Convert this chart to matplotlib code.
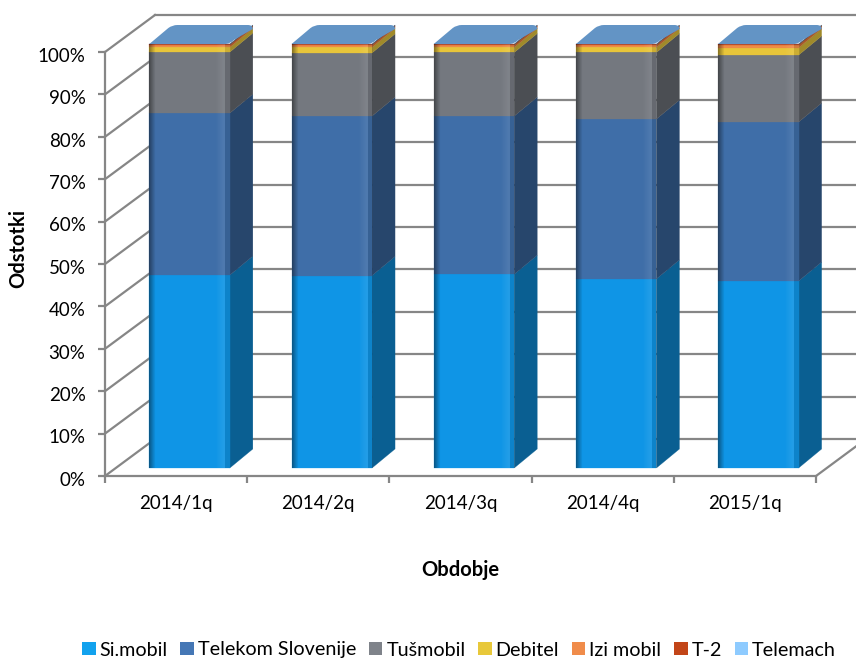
#!/usr/bin/env python3
"""Stacked 3D style column chart of mobile market shares"""

import matplotlib
matplotlib.use('Agg')
import matplotlib.pyplot as plt
from matplotlib.patches import Polygon, PathPatch, Patch
from matplotlib.path import Path
from matplotlib.transforms import ScaledTranslation
import numpy as np

plt.rcParams['font.family'] = ['Lato', 'DejaVu Sans']

# Data
periods = ['2014/1q', '2014/2q', '2014/3q', '2014/4q', '2015/1q']
simobil = [45.5, 45.4, 45.7, 44.6, 44.1]
telekom = [38.2, 37.6, 37.3, 37.7, 37.5]
tusmobil = [14.4, 14.9, 15.0, 15.7, 15.8]
debitel = [1.1, 1.3, 1.2, 1.2, 1.7]
izi = [0.5, 0.5, 0.5, 0.5, 0.6]
t2 = [0.2, 0.2, 0.2, 0.2, 0.2]
telemach = [0.1, 0.1, 0.1, 0.1, 0.1]
y_ticks = [0, 10, 20, 30, 40, 50, 60, 70, 80, 90, 100]

names = ['Si.mobil', 'Telekom Slovenije', 'Tušmobil', 'Debitel', 'Izi mobil', 'T-2', 'Telemach']
series = [simobil, telekom, tusmobil, debitel, izi, t2, telemach]

front_colors = ['#0F95E6', '#3F6EA8', '#74787F', '#E8C53A', '#EE8B46', '#C0431A', '#6394C5']
side_colors = ['#0A5F92', '#27466C', '#4B4E53', '#A08A2A', '#A85A28', '#8A3010', '#3F6080']
legend_colors = ['#12A2EE', '#4577B5', '#7F838A', '#E8C83A', '#F08C4A', '#C24518', '#8ECBFF']
top_color = '#6394C5'
grid_color = '#868686'

W, H = 856, 660
left, right, bottom, top = 105, 816, 476, 52

fig = plt.figure(figsize=(W / 100, H / 100), dpi=100, facecolor='white')
ax = fig.add_axes([left / W, 1 - bottom / H, (right - left) / W, (bottom - top) / H])
ax.set_facecolor('none')

# one pixel in data units
px = len(periods) / (right - left)
py = 100 / (bottom - top)

# Walls: depth of the box
wall_dx, wall_dy = 50 * px, 37 * py
lw = 1.6
for v in y_ticks:
    ax.plot([0, wall_dx], [v, v + wall_dy], color=grid_color, lw=lw, clip_on=False, zorder=1)
    ax.plot([wall_dx, 5 + wall_dx], [v + wall_dy, v + wall_dy], color=grid_color, lw=lw,
            clip_on=False, zorder=1)
ax.plot([5, 5 + wall_dx], [0, wall_dy], color=grid_color, lw=lw, clip_on=False, zorder=1)

# Bars
bar_w = 80.5 * px
bar_dx, bar_dy = 23 * px, 19 * py
shift_x, shift_y = 13.5 * px, 8 * py

shade = np.zeros((1, 80, 4))
for k in range(80):
    if k < 6:
        shade[0, k, 3] = 0.4 * (1 - k / 6)
    elif 66 <= k < 75:
        shade[0, k, :3] = 1
        shade[0, k, 3] = 0.09 * (k - 65) / 9
    elif k >= 75:
        shade[0, k, 3] = 0.12

for i in range(len(periods)):
    x0 = i + 0.5 - bar_w / 2 + shift_x
    x1 = x0 + bar_w
    base = shift_y
    for vals, fc, sc in zip(series, front_colors, side_colors):
        y0, y1 = base, base + vals[i]
        ax.add_patch(Polygon([(x1, y0), (x1 + bar_dx, y0 + bar_dy), (x1 + bar_dx, y1 + bar_dy), (x1, y1)],
                             closed=True, fc=sc, ec=sc, lw=0.2, clip_on=False, zorder=3))
        ax.add_patch(Polygon([(x0, y0), (x1, y0), (x1, y1), (x0, y1)],
                             closed=True, fc=fc, ec=fc, lw=0.2, clip_on=False, zorder=4))
        base = y1
    # bevel shading on the front
    ax.imshow(shade, extent=[x0, x1, shift_y, base], aspect='auto', zorder=5,
              interpolation='bilinear', clip_on=False)
    # rounded top face
    r = 5 * px
    rv = 4 * py
    verts = [(x0, base), (x1 - r, base), (x1, base), (x1 + 4 * px, base + 4 * py),
             (x1 + bar_dx, base + bar_dy - rv), (x1 + bar_dx, base + bar_dy),
             (x1 + bar_dx - r, base + bar_dy), (x0 + bar_dx + r, base + bar_dy),
             (x0 + bar_dx, base + bar_dy), (x0 + bar_dx - 4 * px, base + bar_dy - 3 * py), (x0, base)]
    codes = [Path.MOVETO, Path.LINETO, Path.CURVE3, Path.CURVE3, Path.LINETO, Path.CURVE3, Path.CURVE3,
             Path.LINETO, Path.CURVE3, Path.CURVE3, Path.LINETO]
    ax.add_patch(PathPatch(Path(verts, codes), fc=top_color, ec='none', clip_on=False, zorder=6))

ax.set_xlim(0, len(periods))
ax.set_ylim(0, 100)

# Axes
for s in ['top', 'right']:
    ax.spines[s].set_visible(False)
for s in ['left', 'bottom']:
    ax.spines[s].set_color(grid_color)
    ax.spines[s].set_linewidth(lw)
ax.set_yticks(y_ticks)
ax.set_yticklabels([f'{v}%' for v in y_ticks], fontsize=13.5)
ax.set_xticks(range(len(periods) + 1))
ax.set_xticklabels([])
ax.set_xticks([i + 0.5 for i in range(len(periods))], minor=True)
ax.set_xticklabels(periods, minor=True, fontsize=13.5)
ax.tick_params(axis='x', which='major', length=5, width=lw, color=grid_color)
ax.tick_params(axis='x', which='minor', length=0, pad=14)
ax.tick_params(axis='y', length=5, width=lw, color=grid_color, pad=9)

# labels sit a bit lower than the ticks in the original
down = ScaledTranslation(0, -2 / 72, fig.dpi_scale_trans)
for lab in ax.get_yticklabels():
    lab.set_transform(lab.get_transform() + down)

ax.set_xlabel('Obdobje', fontsize=14.5, fontweight='bold')
ax.xaxis.set_label_coords(0.4993, -0.199)
ax.set_ylabel('Odstotki', fontsize=14.5, fontweight='bold')
ax.yaxis.set_label_coords(-0.108, 0.537)

# Legend
handles = [Patch(fc=c, ec='none') for c in legend_colors]
fig.legend(handles, names, ncol=7, loc='center', bbox_to_anchor=(459 / W, 1 - 650 / H), frameon=False,
           fontsize=14.2, handlelength=0.68, handleheight=0.68, handletextpad=0.2, columnspacing=0.65,
           borderpad=0, borderaxespad=0)

plt.savefig('out.png', dpi=100, facecolor='white')
plt.close()
